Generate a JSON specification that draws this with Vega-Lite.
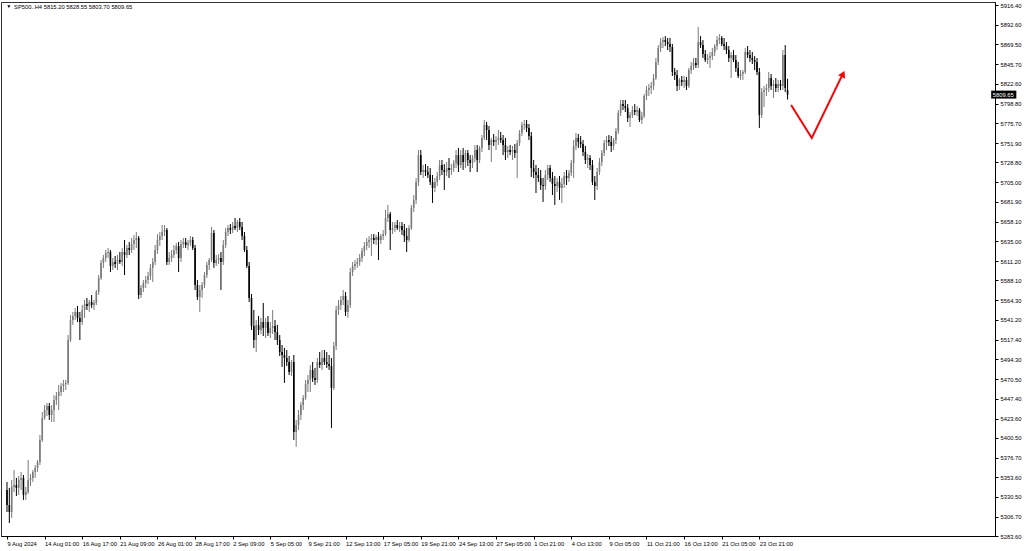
{
"$schema":"https://vega.github.io/schema/vega-lite/v6.json",
"width":994,"height":534,
"autosize":{"type":"none"},
"padding":{"left":1,"top":2,"right":29,"bottom":15},
"background":"#ffffff",
"config":{"view":{"stroke":"#333333","strokeWidth":1},"font":"Liberation Sans","axis":{"labelOverlap":false,"labelSeparation":0}},
"datasets":{
"candles":[
{"i":0,"o":5338.5,"h":5348.0,"l":5312.2,"c":5320.6},
{"i":1,"o":5320.6,"h":5340.9,"l":5299.1,"c":5312.2},
{"i":2,"o":5312.2,"h":5350.4,"l":5305.1,"c":5342.1},
{"i":3,"o":5342.1,"h":5362.3,"l":5336.1,"c":5344.4},
{"i":4,"o":5344.4,"h":5352.8,"l":5331.3,"c":5340.9},
{"i":5,"o":5340.9,"h":5355.1,"l":5332.5,"c":5350.4},
{"i":6,"o":5350.4,"h":5359.9,"l":5338.5,"c":5352.8},
{"i":7,"o":5352.8,"h":5356.3,"l":5326.6,"c":5332.5},
{"i":8,"o":5332.5,"h":5342.1,"l":5326.6,"c":5336.1},
{"i":9,"o":5336.1,"h":5374.2,"l":5333.7,"c":5350.4},
{"i":10,"o":5350.4,"h":5357.5,"l":5343.2,"c":5352.8},
{"i":11,"o":5352.8,"h":5362.3,"l":5348.0,"c":5359.9},
{"i":12,"o":5359.9,"h":5368.2,"l":5352.8,"c":5364.7},
{"i":13,"o":5364.7,"h":5374.2,"l":5359.9,"c":5371.8},
{"i":14,"o":5371.8,"h":5404.0,"l":5368.2,"c":5398.1},
{"i":15,"o":5398.1,"h":5431.4,"l":5395.7,"c":5424.3},
{"i":16,"o":5424.3,"h":5439.7,"l":5421.9,"c":5433.8},
{"i":17,"o":5433.8,"h":5442.1,"l":5426.6,"c":5438.5},
{"i":18,"o":5438.5,"h":5442.1,"l":5421.9,"c":5427.8},
{"i":19,"o":5427.8,"h":5439.7,"l":5419.5,"c":5433.8},
{"i":20,"o":5433.8,"h":5451.6,"l":5419.5,"c":5445.7},
{"i":21,"o":5445.7,"h":5455.2,"l":5439.7,"c":5450.4},
{"i":22,"o":5450.4,"h":5463.6,"l":5433.8,"c":5455.2},
{"i":23,"o":5455.2,"h":5466.0,"l":5450.4,"c":5462.4},
{"i":24,"o":5462.4,"h":5469.6,"l":5455.2,"c":5464.8},
{"i":25,"o":5464.8,"h":5469.6,"l":5457.6,"c":5466.0},
{"i":26,"o":5466.0,"h":5523.1,"l":5463.6,"c":5517.2},
{"i":27,"o":5517.2,"h":5547.0,"l":5514.8,"c":5541.1},
{"i":28,"o":5541.1,"h":5550.6,"l":5535.1,"c":5545.8},
{"i":29,"o":5545.8,"h":5555.4,"l":5541.1,"c":5550.6},
{"i":30,"o":5550.6,"h":5557.7,"l":5538.7,"c":5543.5},
{"i":31,"o":5543.5,"h":5550.6,"l":5517.2,"c":5538.7},
{"i":32,"o":5538.7,"h":5558.9,"l":5535.1,"c":5553.0},
{"i":33,"o":5553.0,"h":5564.9,"l":5543.5,"c":5560.1},
{"i":34,"o":5560.1,"h":5567.3,"l":5553.0,"c":5557.7},
{"i":35,"o":5557.7,"h":5564.9,"l":5550.6,"c":5562.5},
{"i":36,"o":5562.5,"h":5570.8,"l":5555.4,"c":5558.9},
{"i":37,"o":5558.9,"h":5564.9,"l":5553.0,"c":5561.3},
{"i":38,"o":5561.3,"h":5576.8,"l":5558.9,"c":5574.4},
{"i":39,"o":5574.4,"h":5594.6,"l":5570.8,"c":5591.1},
{"i":40,"o":5591.1,"h":5612.6,"l":5588.7,"c":5609.0},
{"i":41,"o":5609.0,"h":5618.5,"l":5603.1,"c":5615.0},
{"i":42,"o":5615.0,"h":5624.5,"l":5610.2,"c":5620.9},
{"i":43,"o":5620.9,"h":5626.9,"l":5615.0,"c":5622.1},
{"i":44,"o":5622.1,"h":5624.5,"l":5598.2,"c":5605.4},
{"i":45,"o":5605.4,"h":5615.0,"l":5600.6,"c":5610.2},
{"i":46,"o":5610.2,"h":5617.3,"l":5603.1,"c":5607.8},
{"i":47,"o":5607.8,"h":5618.5,"l":5600.6,"c":5612.6},
{"i":48,"o":5612.6,"h":5622.1,"l":5607.8,"c":5610.2},
{"i":49,"o":5610.2,"h":5626.9,"l":5605.4,"c":5622.1},
{"i":50,"o":5622.1,"h":5636.4,"l":5594.6,"c":5618.5},
{"i":51,"o":5618.5,"h":5630.4,"l":5615.0,"c":5626.9},
{"i":52,"o":5626.9,"h":5634.0,"l":5618.5,"c":5624.5},
{"i":53,"o":5624.5,"h":5638.8,"l":5620.9,"c":5631.6},
{"i":54,"o":5631.6,"h":5642.3,"l":5624.5,"c":5636.4},
{"i":55,"o":5636.4,"h":5645.9,"l":5626.9,"c":5638.8},
{"i":56,"o":5638.8,"h":5641.1,"l":5566.1,"c":5570.8},
{"i":57,"o":5570.8,"h":5582.7,"l":5567.3,"c":5579.2},
{"i":58,"o":5579.2,"h":5588.7,"l":5574.4,"c":5585.1},
{"i":59,"o":5585.1,"h":5593.4,"l":5579.2,"c":5588.7},
{"i":60,"o":5588.7,"h":5598.2,"l":5583.9,"c":5593.4},
{"i":61,"o":5593.4,"h":5607.8,"l":5588.7,"c":5603.1},
{"i":62,"o":5603.1,"h":5615.0,"l":5586.3,"c":5610.2},
{"i":63,"o":5610.2,"h":5630.4,"l":5606.6,"c":5624.5},
{"i":64,"o":5624.5,"h":5643.5,"l":5619.7,"c":5636.4},
{"i":65,"o":5636.4,"h":5645.9,"l":5629.2,"c":5641.1},
{"i":66,"o":5641.1,"h":5654.2,"l":5636.4,"c":5645.9},
{"i":67,"o":5645.9,"h":5654.2,"l":5641.1,"c":5648.3},
{"i":68,"o":5648.3,"h":5650.7,"l":5606.6,"c":5610.2},
{"i":69,"o":5610.2,"h":5622.1,"l":5606.6,"c":5615.0},
{"i":70,"o":5615.0,"h":5624.5,"l":5610.2,"c":5618.5},
{"i":71,"o":5618.5,"h":5630.4,"l":5615.0,"c":5624.5},
{"i":72,"o":5624.5,"h":5632.8,"l":5619.7,"c":5629.2},
{"i":73,"o":5629.2,"h":5634.0,"l":5598.2,"c":5615.0},
{"i":74,"o":5615.0,"h":5636.4,"l":5610.2,"c":5631.6},
{"i":75,"o":5631.6,"h":5638.8,"l":5626.9,"c":5634.0},
{"i":76,"o":5634.0,"h":5638.8,"l":5626.9,"c":5630.4},
{"i":77,"o":5630.4,"h":5636.4,"l":5624.5,"c":5632.8},
{"i":78,"o":5632.8,"h":5641.1,"l":5629.2,"c":5636.4},
{"i":79,"o":5636.4,"h":5640.0,"l":5624.5,"c":5626.9},
{"i":80,"o":5626.9,"h":5630.4,"l":5576.8,"c":5582.7},
{"i":81,"o":5582.7,"h":5588.7,"l":5564.9,"c":5568.5},
{"i":82,"o":5568.5,"h":5582.7,"l":5550.6,"c":5576.8},
{"i":83,"o":5576.8,"h":5586.3,"l":5567.3,"c":5582.7},
{"i":84,"o":5582.7,"h":5598.2,"l":5579.2,"c":5594.6},
{"i":85,"o":5594.6,"h":5610.2,"l":5591.1,"c":5606.6},
{"i":86,"o":5606.6,"h":5615.0,"l":5600.6,"c":5612.6},
{"i":87,"o":5612.6,"h":5651.9,"l":5610.2,"c":5644.7},
{"i":88,"o":5644.7,"h":5648.3,"l":5603.1,"c":5609.0},
{"i":89,"o":5609.0,"h":5618.5,"l":5605.4,"c":5612.6},
{"i":90,"o":5612.6,"h":5619.7,"l":5607.8,"c":5615.0},
{"i":91,"o":5615.0,"h":5622.1,"l":5576.8,"c":5610.2},
{"i":92,"o":5610.2,"h":5636.4,"l":5606.6,"c":5630.4},
{"i":93,"o":5630.4,"h":5650.7,"l":5626.9,"c":5645.9},
{"i":94,"o":5645.9,"h":5654.2,"l":5641.1,"c":5650.7},
{"i":95,"o":5650.7,"h":5655.4,"l":5643.5,"c":5648.3},
{"i":96,"o":5648.3,"h":5657.8,"l":5644.7,"c":5653.0},
{"i":97,"o":5653.0,"h":5662.6,"l":5648.3,"c":5650.7},
{"i":98,"o":5650.7,"h":5660.2,"l":5645.9,"c":5657.8},
{"i":99,"o":5657.8,"h":5662.6,"l":5648.3,"c":5651.9},
{"i":100,"o":5651.9,"h":5657.8,"l":5636.4,"c":5641.1},
{"i":101,"o":5641.1,"h":5645.9,"l":5622.1,"c":5624.5},
{"i":102,"o":5624.5,"h":5629.2,"l":5603.1,"c":5605.4},
{"i":103,"o":5605.4,"h":5610.2,"l":5562.5,"c":5567.3},
{"i":104,"o":5567.3,"h":5572.0,"l":5529.1,"c":5533.9},
{"i":105,"o":5533.9,"h":5553.0,"l":5507.7,"c":5517.2},
{"i":106,"o":5517.2,"h":5541.1,"l":5502.9,"c":5535.1},
{"i":107,"o":5535.1,"h":5545.8,"l":5523.1,"c":5529.1},
{"i":108,"o":5529.1,"h":5543.5,"l":5524.3,"c":5538.7},
{"i":109,"o":5538.7,"h":5561.3,"l":5521.9,"c":5531.6},
{"i":110,"o":5531.6,"h":5543.5,"l":5519.6,"c":5538.7},
{"i":111,"o":5538.7,"h":5545.8,"l":5521.9,"c":5525.5},
{"i":112,"o":5525.5,"h":5538.7,"l":5519.6,"c":5531.6},
{"i":113,"o":5531.6,"h":5553.0,"l":5524.3,"c":5533.9},
{"i":114,"o":5533.9,"h":5541.1,"l":5517.2,"c":5526.7},
{"i":115,"o":5526.7,"h":5535.1,"l":5511.2,"c":5517.2},
{"i":116,"o":5517.2,"h":5523.1,"l":5498.1,"c":5502.9},
{"i":117,"o":5502.9,"h":5511.2,"l":5485.1,"c":5499.3},
{"i":118,"o":5499.3,"h":5507.7,"l":5466.0,"c":5495.8},
{"i":119,"o":5495.8,"h":5505.3,"l":5486.2,"c":5491.0},
{"i":120,"o":5491.0,"h":5498.1,"l":5475.5,"c":5479.1},
{"i":121,"o":5479.1,"h":5493.4,"l":5474.3,"c":5491.0},
{"i":122,"o":5491.0,"h":5499.3,"l":5398.1,"c":5407.6},
{"i":123,"o":5407.6,"h":5421.9,"l":5389.8,"c":5415.9},
{"i":124,"o":5415.9,"h":5433.8,"l":5410.0,"c":5427.8},
{"i":125,"o":5427.8,"h":5443.3,"l":5421.9,"c":5439.7},
{"i":126,"o":5439.7,"h":5451.6,"l":5433.8,"c":5448.1},
{"i":127,"o":5448.1,"h":5469.6,"l":5445.7,"c":5464.8},
{"i":128,"o":5464.8,"h":5475.5,"l":5455.2,"c":5469.6},
{"i":129,"o":5469.6,"h":5487.4,"l":5455.2,"c":5481.5},
{"i":130,"o":5481.5,"h":5491.0,"l":5467.2,"c":5472.0},
{"i":131,"o":5472.0,"h":5483.9,"l":5463.6,"c":5469.6},
{"i":132,"o":5469.6,"h":5495.8,"l":5466.0,"c":5491.0},
{"i":133,"o":5491.0,"h":5502.9,"l":5483.9,"c":5487.4},
{"i":134,"o":5487.4,"h":5505.3,"l":5481.5,"c":5495.8},
{"i":135,"o":5495.8,"h":5505.3,"l":5487.4,"c":5491.0},
{"i":136,"o":5491.0,"h":5502.9,"l":5483.9,"c":5488.6},
{"i":137,"o":5488.6,"h":5499.3,"l":5481.5,"c":5486.2},
{"i":138,"o":5486.2,"h":5495.8,"l":5412.4,"c":5460.1},
{"i":139,"o":5460.1,"h":5514.8,"l":5457.6,"c":5510.0},
{"i":140,"o":5510.0,"h":5557.7,"l":5505.3,"c":5553.0},
{"i":141,"o":5553.0,"h":5564.9,"l":5547.0,"c":5558.9},
{"i":142,"o":5558.9,"h":5569.6,"l":5553.0,"c":5564.9},
{"i":143,"o":5564.9,"h":5576.8,"l":5558.9,"c":5569.6},
{"i":144,"o":5569.6,"h":5574.4,"l":5545.8,"c":5550.6},
{"i":145,"o":5550.6,"h":5564.9,"l":5543.5,"c":5558.9},
{"i":146,"o":5558.9,"h":5603.1,"l":5555.4,"c":5598.2},
{"i":147,"o":5598.2,"h":5610.2,"l":5593.4,"c":5605.4},
{"i":148,"o":5605.4,"h":5612.6,"l":5600.6,"c":5607.8},
{"i":149,"o":5607.8,"h":5615.0,"l":5603.1,"c":5610.2},
{"i":150,"o":5610.2,"h":5619.7,"l":5605.4,"c":5615.0},
{"i":151,"o":5615.0,"h":5626.9,"l":5610.2,"c":5623.3},
{"i":152,"o":5623.3,"h":5634.0,"l":5617.3,"c":5629.2},
{"i":153,"o":5629.2,"h":5638.8,"l":5624.5,"c":5634.0},
{"i":154,"o":5634.0,"h":5641.1,"l":5626.9,"c":5636.4},
{"i":155,"o":5636.4,"h":5643.5,"l":5617.3,"c":5638.8},
{"i":156,"o":5638.8,"h":5643.5,"l":5631.6,"c":5636.4},
{"i":157,"o":5636.4,"h":5642.3,"l":5630.4,"c":5640.0},
{"i":158,"o":5640.0,"h":5645.9,"l":5612.6,"c":5636.4},
{"i":159,"o":5636.4,"h":5643.5,"l":5631.6,"c":5641.1},
{"i":160,"o":5641.1,"h":5648.3,"l":5636.4,"c":5643.5},
{"i":161,"o":5643.5,"h":5672.1,"l":5641.1,"c":5662.6},
{"i":162,"o":5662.6,"h":5678.1,"l":5657.8,"c":5667.3},
{"i":163,"o":5667.3,"h":5669.7,"l":5624.5,"c":5648.3},
{"i":164,"o":5648.3,"h":5657.8,"l":5643.5,"c":5650.7},
{"i":165,"o":5650.7,"h":5657.8,"l":5645.9,"c":5654.2},
{"i":166,"o":5654.2,"h":5660.2,"l":5648.3,"c":5650.7},
{"i":167,"o":5650.7,"h":5657.8,"l":5645.9,"c":5653.0},
{"i":168,"o":5653.0,"h":5657.8,"l":5642.3,"c":5648.3},
{"i":169,"o":5648.3,"h":5655.4,"l":5634.0,"c":5641.1},
{"i":170,"o":5641.1,"h":5650.7,"l":5622.1,"c":5636.4},
{"i":171,"o":5636.4,"h":5654.2,"l":5634.0,"c":5650.7},
{"i":172,"o":5650.7,"h":5678.1,"l":5648.3,"c":5674.6},
{"i":173,"o":5674.6,"h":5690.0,"l":5669.7,"c":5684.1},
{"i":174,"o":5684.1,"h":5710.3,"l":5679.3,"c":5705.5},
{"i":175,"o":5705.5,"h":5743.6,"l":5700.7,"c":5737.6},
{"i":176,"o":5737.6,"h":5743.6,"l":5713.8,"c":5717.4},
{"i":177,"o":5717.4,"h":5725.7,"l":5710.3,"c":5719.8},
{"i":178,"o":5719.8,"h":5726.9,"l":5712.6,"c":5717.4},
{"i":179,"o":5717.4,"h":5724.5,"l":5710.3,"c":5713.8},
{"i":180,"o":5713.8,"h":5722.2,"l":5701.9,"c":5705.5},
{"i":181,"o":5705.5,"h":5713.8,"l":5680.5,"c":5698.4},
{"i":182,"o":5698.4,"h":5710.3,"l":5693.6,"c":5705.5},
{"i":183,"o":5705.5,"h":5717.4,"l":5700.7,"c":5712.6},
{"i":184,"o":5712.6,"h":5731.7,"l":5707.9,"c":5725.7},
{"i":185,"o":5725.7,"h":5731.7,"l":5713.8,"c":5719.8},
{"i":186,"o":5719.8,"h":5726.9,"l":5696.0,"c":5717.4},
{"i":187,"o":5717.4,"h":5729.3,"l":5712.6,"c":5722.2},
{"i":188,"o":5722.2,"h":5734.1,"l":5710.3,"c":5719.8},
{"i":189,"o":5719.8,"h":5726.9,"l":5713.8,"c":5722.2},
{"i":190,"o":5722.2,"h":5731.7,"l":5717.4,"c":5728.1},
{"i":191,"o":5728.1,"h":5743.6,"l":5722.2,"c":5737.6},
{"i":192,"o":5737.6,"h":5746.1,"l":5717.4,"c":5725.7},
{"i":193,"o":5725.7,"h":5743.6,"l":5722.2,"c":5737.6},
{"i":194,"o":5737.6,"h":5746.1,"l":5719.8,"c":5729.3},
{"i":195,"o":5729.3,"h":5743.6,"l":5722.2,"c":5740.0},
{"i":196,"o":5740.0,"h":5743.6,"l":5724.5,"c":5731.7},
{"i":197,"o":5731.7,"h":5737.6,"l":5717.4,"c":5728.1},
{"i":198,"o":5728.1,"h":5737.6,"l":5722.2,"c":5734.1},
{"i":199,"o":5734.1,"h":5749.6,"l":5729.3,"c":5743.6},
{"i":200,"o":5743.6,"h":5749.6,"l":5717.4,"c":5731.7},
{"i":201,"o":5731.7,"h":5748.4,"l":5728.1,"c":5746.1},
{"i":202,"o":5746.1,"h":5761.5,"l":5741.2,"c":5758.0},
{"i":203,"o":5758.0,"h":5779.4,"l":5755.6,"c":5773.4},
{"i":204,"o":5773.4,"h":5777.0,"l":5755.6,"c":5767.5},
{"i":205,"o":5767.5,"h":5772.2,"l":5743.6,"c":5749.6},
{"i":206,"o":5749.6,"h":5758.0,"l":5729.3,"c":5755.6},
{"i":207,"o":5755.6,"h":5762.7,"l":5748.4,"c":5753.2},
{"i":208,"o":5753.2,"h":5760.3,"l":5743.6,"c":5755.6},
{"i":209,"o":5755.6,"h":5767.5,"l":5749.6,"c":5758.0},
{"i":210,"o":5758.0,"h":5765.1,"l":5752.0,"c":5755.6},
{"i":211,"o":5755.6,"h":5761.5,"l":5737.6,"c":5749.6},
{"i":212,"o":5749.6,"h":5758.0,"l":5731.7,"c":5741.2},
{"i":213,"o":5741.2,"h":5748.4,"l":5734.1,"c":5743.6},
{"i":214,"o":5743.6,"h":5749.6,"l":5737.6,"c":5741.2},
{"i":215,"o":5741.2,"h":5748.4,"l":5731.7,"c":5743.6},
{"i":216,"o":5743.6,"h":5750.8,"l":5734.1,"c":5740.0},
{"i":217,"o":5740.0,"h":5755.6,"l":5710.3,"c":5752.0},
{"i":218,"o":5752.0,"h":5767.5,"l":5748.4,"c":5763.9},
{"i":219,"o":5763.9,"h":5777.0,"l":5760.3,"c":5773.4},
{"i":220,"o":5773.4,"h":5779.4,"l":5767.5,"c":5774.6},
{"i":221,"o":5774.6,"h":5779.4,"l":5765.1,"c":5769.9},
{"i":222,"o":5769.9,"h":5774.6,"l":5755.6,"c":5760.3},
{"i":223,"o":5760.3,"h":5765.1,"l":5711.5,"c":5722.2},
{"i":224,"o":5722.2,"h":5731.7,"l":5710.3,"c":5717.4},
{"i":225,"o":5717.4,"h":5725.7,"l":5692.4,"c":5713.8},
{"i":226,"o":5713.8,"h":5722.2,"l":5705.5,"c":5710.3},
{"i":227,"o":5710.3,"h":5719.8,"l":5696.0,"c":5701.9},
{"i":228,"o":5701.9,"h":5710.3,"l":5681.7,"c":5700.7},
{"i":229,"o":5700.7,"h":5719.8,"l":5696.0,"c":5713.8},
{"i":230,"o":5713.8,"h":5725.7,"l":5707.9,"c":5722.2},
{"i":231,"o":5722.2,"h":5725.7,"l":5705.5,"c":5710.3},
{"i":232,"o":5710.3,"h":5717.4,"l":5690.0,"c":5703.1},
{"i":233,"o":5703.1,"h":5712.6,"l":5678.1,"c":5700.7},
{"i":234,"o":5700.7,"h":5710.3,"l":5693.6,"c":5705.5},
{"i":235,"o":5705.5,"h":5712.6,"l":5684.1,"c":5698.4},
{"i":236,"o":5698.4,"h":5710.3,"l":5680.5,"c":5703.1},
{"i":237,"o":5703.1,"h":5717.4,"l":5698.4,"c":5712.6},
{"i":238,"o":5712.6,"h":5719.8,"l":5701.9,"c":5710.3},
{"i":239,"o":5710.3,"h":5719.8,"l":5705.5,"c":5716.2},
{"i":240,"o":5716.2,"h":5731.7,"l":5712.6,"c":5728.1},
{"i":241,"o":5728.1,"h":5755.6,"l":5710.3,"c":5748.4},
{"i":242,"o":5748.4,"h":5763.9,"l":5743.6,"c":5758.0},
{"i":243,"o":5758.0,"h":5762.7,"l":5746.1,"c":5753.2},
{"i":244,"o":5753.2,"h":5760.3,"l":5746.1,"c":5750.8},
{"i":245,"o":5750.8,"h":5755.6,"l":5736.4,"c":5741.2},
{"i":246,"o":5741.2,"h":5748.4,"l":5726.9,"c":5731.7},
{"i":247,"o":5731.7,"h":5738.8,"l":5722.2,"c":5734.1},
{"i":248,"o":5734.1,"h":5737.6,"l":5719.8,"c":5725.7},
{"i":249,"o":5725.7,"h":5731.7,"l":5701.9,"c":5705.5},
{"i":250,"o":5705.5,"h":5712.6,"l":5684.1,"c":5700.7},
{"i":251,"o":5700.7,"h":5722.2,"l":5696.0,"c":5717.4},
{"i":252,"o":5717.4,"h":5734.1,"l":5713.8,"c":5729.3},
{"i":253,"o":5729.3,"h":5743.6,"l":5724.5,"c":5740.0},
{"i":254,"o":5740.0,"h":5755.6,"l":5736.4,"c":5752.0},
{"i":255,"o":5752.0,"h":5760.3,"l":5743.6,"c":5755.6},
{"i":256,"o":5755.6,"h":5761.5,"l":5748.4,"c":5753.2},
{"i":257,"o":5753.2,"h":5760.3,"l":5741.2,"c":5748.4},
{"i":258,"o":5748.4,"h":5758.0,"l":5743.6,"c":5755.6},
{"i":259,"o":5755.6,"h":5769.9,"l":5750.8,"c":5766.3},
{"i":260,"o":5766.3,"h":5791.3,"l":5762.7,"c":5787.7},
{"i":261,"o":5787.7,"h":5803.2,"l":5784.1,"c":5798.4},
{"i":262,"o":5798.4,"h":5803.2,"l":5791.3,"c":5796.0},
{"i":263,"o":5796.0,"h":5803.2,"l":5788.9,"c":5793.7},
{"i":264,"o":5793.7,"h":5798.4,"l":5777.0,"c":5781.8},
{"i":265,"o":5781.8,"h":5788.9,"l":5771.1,"c":5785.3},
{"i":266,"o":5785.3,"h":5796.0,"l":5781.8,"c":5791.3},
{"i":267,"o":5791.3,"h":5798.4,"l":5785.3,"c":5788.9},
{"i":268,"o":5788.9,"h":5796.0,"l":5784.1,"c":5791.3},
{"i":269,"o":5791.3,"h":5793.7,"l":5777.0,"c":5779.4},
{"i":270,"o":5779.4,"h":5788.9,"l":5774.6,"c":5784.1},
{"i":271,"o":5784.1,"h":5810.3,"l":5781.8,"c":5807.9},
{"i":272,"o":5807.9,"h":5819.9,"l":5803.2,"c":5815.1},
{"i":273,"o":5815.1,"h":5822.3,"l":5807.9,"c":5817.6},
{"i":274,"o":5817.6,"h":5824.7,"l":5810.3,"c":5819.9},
{"i":275,"o":5819.9,"h":5834.2,"l":5815.1,"c":5829.5},
{"i":276,"o":5829.5,"h":5853.3,"l":5827.1,"c":5848.5},
{"i":277,"o":5848.5,"h":5868.7,"l":5844.9,"c":5865.2},
{"i":278,"o":5865.2,"h":5877.1,"l":5860.4,"c":5872.3},
{"i":279,"o":5872.3,"h":5878.3,"l":5865.2,"c":5874.7},
{"i":280,"o":5874.7,"h":5879.4,"l":5867.5,"c":5872.3},
{"i":281,"o":5872.3,"h":5877.1,"l":5862.8,"c":5869.9},
{"i":282,"o":5869.9,"h":5877.1,"l":5860.4,"c":5866.4},
{"i":283,"o":5866.4,"h":5869.9,"l":5831.8,"c":5836.6},
{"i":284,"o":5836.6,"h":5841.4,"l":5827.1,"c":5833.0},
{"i":285,"o":5833.0,"h":5839.0,"l":5813.9,"c":5819.9},
{"i":286,"o":5819.9,"h":5829.5,"l":5815.1,"c":5827.1},
{"i":287,"o":5827.1,"h":5831.8,"l":5819.9,"c":5824.7},
{"i":288,"o":5824.7,"h":5831.8,"l":5817.6,"c":5827.1},
{"i":289,"o":5827.1,"h":5830.7,"l":5815.1,"c":5819.9},
{"i":290,"o":5819.9,"h":5841.4,"l":5817.6,"c":5839.0},
{"i":291,"o":5839.0,"h":5848.5,"l":5834.2,"c":5843.7},
{"i":292,"o":5843.7,"h":5853.3,"l":5839.0,"c":5847.3},
{"i":293,"o":5847.3,"h":5853.3,"l":5841.4,"c":5844.9},
{"i":294,"o":5844.9,"h":5890.3,"l":5841.4,"c":5872.3},
{"i":295,"o":5872.3,"h":5879.4,"l":5865.2,"c":5868.7},
{"i":296,"o":5868.7,"h":5874.7,"l":5853.3,"c":5858.0},
{"i":297,"o":5858.0,"h":5862.8,"l":5848.5,"c":5850.9},
{"i":298,"o":5850.9,"h":5858.0,"l":5846.1,"c":5853.3},
{"i":299,"o":5853.3,"h":5860.4,"l":5841.4,"c":5855.6},
{"i":300,"o":5855.6,"h":5865.2,"l":5850.9,"c":5860.4},
{"i":301,"o":5860.4,"h":5869.9,"l":5855.6,"c":5867.5},
{"i":302,"o":5867.5,"h":5879.4,"l":5862.8,"c":5874.7},
{"i":303,"o":5874.7,"h":5881.8,"l":5869.9,"c":5877.1},
{"i":304,"o":5877.1,"h":5879.4,"l":5867.5,"c":5869.9},
{"i":305,"o":5869.9,"h":5877.1,"l":5862.8,"c":5867.5},
{"i":306,"o":5867.5,"h":5872.3,"l":5858.0,"c":5862.8},
{"i":307,"o":5862.8,"h":5867.5,"l":5848.5,"c":5853.3},
{"i":308,"o":5853.3,"h":5860.4,"l":5829.5,"c":5856.8},
{"i":309,"o":5856.8,"h":5862.8,"l":5848.5,"c":5850.9},
{"i":310,"o":5850.9,"h":5856.8,"l":5836.6,"c":5841.4},
{"i":311,"o":5841.4,"h":5848.5,"l":5829.5,"c":5831.8},
{"i":312,"o":5831.8,"h":5839.0,"l":5827.1,"c":5834.2},
{"i":313,"o":5834.2,"h":5839.0,"l":5827.1,"c":5836.6},
{"i":314,"o":5836.6,"h":5865.2,"l":5834.2,"c":5860.4},
{"i":315,"o":5860.4,"h":5867.5,"l":5853.3,"c":5856.8},
{"i":316,"o":5856.8,"h":5862.8,"l":5848.5,"c":5853.3},
{"i":317,"o":5853.3,"h":5860.4,"l":5846.1,"c":5850.9},
{"i":318,"o":5850.9,"h":5855.6,"l":5839.0,"c":5848.5},
{"i":319,"o":5848.5,"h":5853.3,"l":5833.0,"c":5836.6},
{"i":320,"o":5836.6,"h":5841.4,"l":5769.9,"c":5785.3},
{"i":321,"o":5785.3,"h":5817.6,"l":5781.8,"c":5812.7},
{"i":322,"o":5812.7,"h":5819.9,"l":5794.9,"c":5815.1},
{"i":323,"o":5815.1,"h":5822.3,"l":5807.9,"c":5817.6},
{"i":324,"o":5817.6,"h":5836.6,"l":5812.7,"c":5829.5},
{"i":325,"o":5829.5,"h":5834.2,"l":5815.1,"c":5819.9},
{"i":326,"o":5819.9,"h":5827.1,"l":5805.6,"c":5822.3},
{"i":327,"o":5822.3,"h":5829.5,"l":5812.7,"c":5817.6},
{"i":328,"o":5817.6,"h":5827.1,"l":5812.7,"c":5822.3},
{"i":329,"o":5822.3,"h":5827.1,"l":5815.1,"c":5819.9},
{"i":330,"o":5819.9,"h":5862.8,"l":5815.1,"c":5856.8},
{"i":331,"o":5856.8,"h":5868.7,"l":5812.7,"c":5817.6},
{"i":332,"o":5815.2,"h":5828.55,"l":5803.7,"c":5809.65}
],
"arrow":[
{"ax":333.5,"ap":5797.2,"k":0},
{"ax":342.3,"ap":5758.0,"k":1},
{"ax":354.9,"ap":5830.7,"k":2}
],
"head":[{"ax":355.6,"ap":5834.2}],
"tag":[{"x0":418.6,"x1":429.3,"p0":5804.9,"p1":5814.4,"p":5809.65,"tx":419.3,"t":"5809.65"}],
"hdr":[{"tx":3.0,"tp":5914.0,"t":"SP500..H4  5815.20 5828.55 5803.70 5809.65","mx":0.8,"mp":5914.6}]
},
"layer":[
{"data":{"name":"candles"},
 "mark":{"type":"rule","strokeWidth":1},
 "encoding":{
  "x":{"field":"i","type":"quantitative","title":null,
   "scale":{"domain":[-0.421,418.1],"nice":false,"zero":false},
   "axis":{"values":[0,16,32,48,64,80,96,112,128,144,160,176,192,208,224,240,256,272,288,304,320],"tickCount":60,
    "labelExpr":"['9 Aug 2024','14 Aug 01:00','16 Aug 17:00','21 Aug 09:00','26 Aug 01:00','28 Aug 17:00','2 Sep 09:00','5 Sep 05:00','9 Sep 21:00','12 Sep 13:00','17 Sep 05:00','19 Sep 21:00','24 Sep 13:00','27 Sep 05:00','1 Oct 21:00','4 Oct 13:00','9 Oct 05:00','11 Oct 21:00','16 Oct 13:00','21 Oct 05:00','23 Oct 21:00'][round(datum.value/16)]",
    "labelAlign":"left","labelBaseline":"top","labelPadding":1,"labelDx":0,"labelFontSize":5.8,"labelFont":"Liberation Sans","labelColor":"#000000",
    "tickSize":3,"tickColor":"#000000","domainColor":"#000000","grid":false,"labelOverlap":false,"labelFlush":false,"labelBound":false}},
  "y":{"field":"l","type":"quantitative","title":null,
   "scale":{"domain":[5283.6,5920.0],"nice":false,"zero":false},
   "axis":{"orient":"right","values":[5916.4,5892.6,5869.5,5845.7,5822.6,5798.8,5775.7,5751.9,5728.8,5705.0,5681.9,5658.1,5635.0,5611.2,5588.1,5564.3,5541.2,5517.4,5494.3,5470.5,5447.4,5423.6,5400.5,5376.7,5353.6,5330.5,5306.7,5283.6],"tickCount":60,
    "format":".2f","labelFontSize":5.8,"labelFont":"Liberation Sans","labelColor":"#000000","labelPadding":2,"tickSize":3,"tickColor":"#000000","domainColor":"#000000","grid":false,"labelOverlap":false,"labelFlush":false,"labelBound":false}},
  "y2":{"field":"h"},
  "color":{"condition":{"test":"datum.c >= datum.o","value":"#7a7a7a"},"value":"#000000"}
 }},
{"data":{"name":"candles"},
 "mark":{"type":"bar","width":1.6},
 "encoding":{
  "x":{"field":"i","type":"quantitative","title":null},
  "y":{"field":"o","type":"quantitative","title":null},
  "y2":{"field":"c"},
  "color":{"condition":{"test":"datum.c >= datum.o","value":"#7a7a7a"},"value":"#000000"}
 }},
{"data":{"name":"arrow"},
 "mark":{"type":"line","color":"#ff0000","strokeWidth":2},
 "encoding":{
  "x":{"field":"ax","type":"quantitative","title":null},
  "y":{"field":"ap","type":"quantitative","title":null},
  "order":{"field":"k","type":"quantitative"}
 }},
{"data":{"name":"head"},
 "mark":{"type":"point","shape":"triangle-up","filled":true,"color":"#ff0000","size":60,"angle":26,"opacity":1},
 "encoding":{
  "x":{"field":"ax","type":"quantitative","title":null},
  "y":{"field":"ap","type":"quantitative","title":null}
 }},
{"data":{"name":"tag"},
 "mark":{"type":"rect","color":"#000000"},
 "encoding":{
  "x":{"field":"x0","type":"quantitative","title":null},
  "x2":{"field":"x1"},
  "y":{"field":"p0","type":"quantitative","title":null},
  "y2":{"field":"p1"}
 }},
{"data":{"name":"tag"},
 "mark":{"type":"text","color":"#ffffff","align":"left","baseline":"middle","fontSize":5.8,"font":"Liberation Sans"},
 "encoding":{
  "x":{"field":"tx","type":"quantitative","title":null},
  "y":{"field":"p","type":"quantitative","title":null},
  "text":{"field":"t"}
 }},
{"data":{"name":"hdr"},
 "mark":{"type":"text","color":"#000000","align":"left","baseline":"middle","fontSize":5.8,"font":"Liberation Sans"},
 "encoding":{
  "x":{"field":"tx","type":"quantitative","title":null},
  "y":{"field":"tp","type":"quantitative","title":null},
  "text":{"field":"t"}
 }},
{"data":{"name":"hdr"},
 "mark":{"type":"point","shape":"triangle-down","filled":true,"color":"#000000","size":10,"opacity":1},
 "encoding":{
  "x":{"field":"mx","type":"quantitative","title":null},
  "y":{"field":"mp","type":"quantitative","title":null}
 }}
]
}
